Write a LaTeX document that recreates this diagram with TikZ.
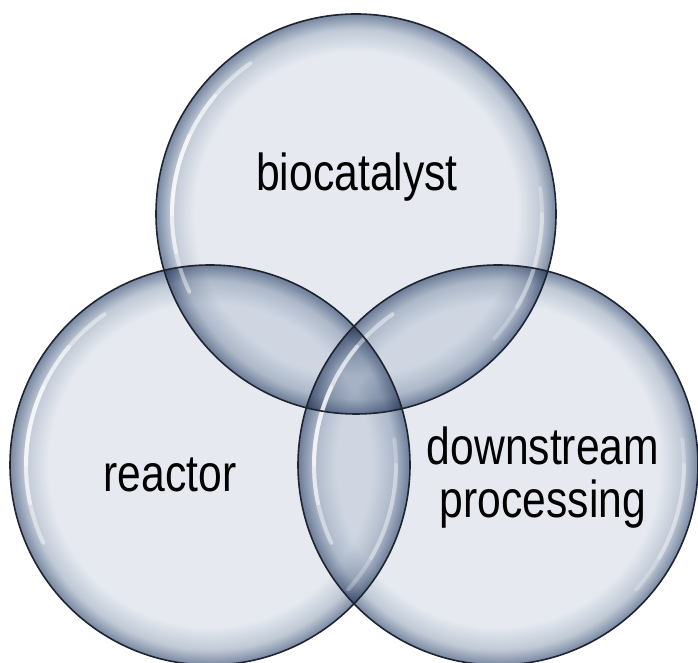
\documentclass[tikz,border=0pt]{standalone}
\usepackage{fontspec}
\setmainfont{Liberation Sans}[FakeStretch=0.82]
\definecolor{bubA}{HTML}{E6EAF0}
\definecolor{bubB}{HTML}{C0C9D6}
\definecolor{bubC}{HTML}{7888A2}
\definecolor{rimline}{HTML}{1E2530}
\pgfdeclareradialshading{bubble}{\pgfpoint{0bp}{0bp}}{color(0bp)=(bubA); color(20.2bp)=(bubA); color(23.1bp)=(bubB); color(25bp)=(bubC); color(50bp)=(bubC)}
\tikzset{
  rim/.style={draw=rimline, line width=1.6pt},
  hl/.style={draw=white, line width=4pt, line cap=round, draw opacity=0.45},
  lbl/.style={font=\fontsize{52}{53}\selectfont, text=black, inner sep=0pt, anchor=base}
}
\begin{document}
\begin{tikzpicture}[x=1pt,y=1pt]
\useasboundingbox (0,0) rectangle (698,663);
\fill[white] (0,0) rectangle (698,663);
\coordinate (cb) at (356,449);
\coordinate (cl) at (210,198);
\coordinate (cr) at (498,198);
\begin{scope}[blend group=multiply]
  \shade[shading=bubble] (cb) circle (200);
  \shade[shading=bubble] (cl) circle (200);
  \shade[shading=bubble] (cr) circle (200);
\end{scope}
% highlights
\foreach \c in {cb,cl,cr}{
  \draw[hl] (\c) ++(155:184) arc[start angle=155,end angle=180,radius=184];
  \draw[hl] (\c) ++(140:184) arc[start angle=140,end angle=192,radius=184];
  \draw[hl] (\c) ++(125:184) arc[start angle=125,end angle=205,radius=184];
  \draw[hl, draw opacity=0.25] (\c) ++(-30:186) arc[start angle=-30,end angle=0,radius=186];
  \draw[hl, draw opacity=0.25] (\c) ++(-42:186) arc[start angle=-42,end angle=8,radius=186];
}
\draw[rim] (cb) circle (200);
\draw[rim] (cl) circle (200);
\draw[rim] (cr) circle (200);
\node[lbl] (tb) at (357,472) {biocatalyst};
\node[lbl] (tr) at (170,171) {reactor};
\node[lbl] (td1) at (543,198) {downstream};
\node[lbl] (td2) at (543,145) {processing};
\end{tikzpicture}
\end{document}
